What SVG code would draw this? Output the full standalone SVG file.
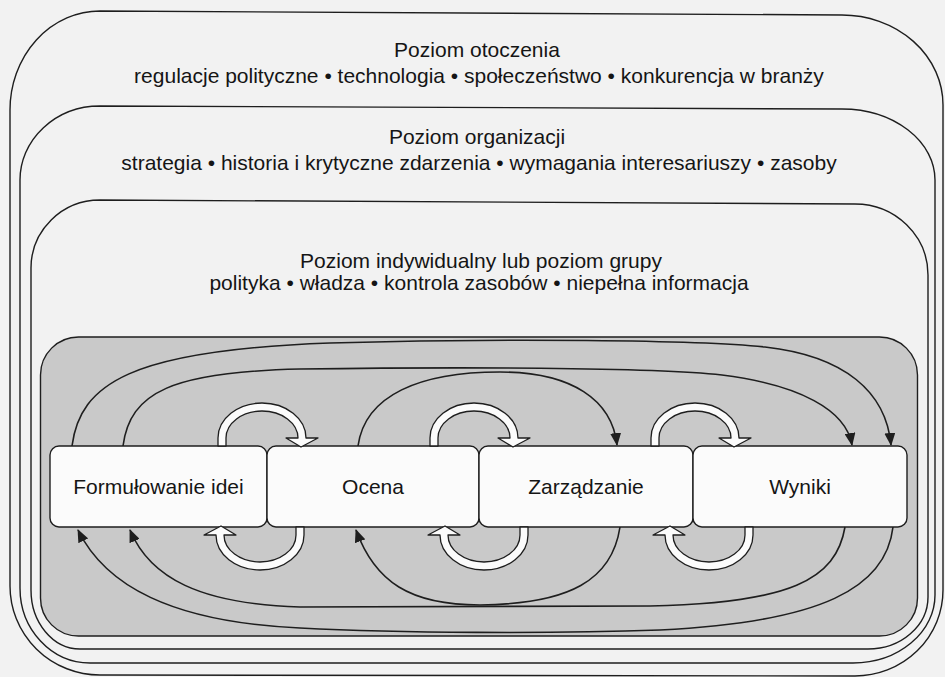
<svg xmlns="http://www.w3.org/2000/svg" width="945" height="677" viewBox="0 0 945 677">
  <style>
    .frame { fill: none; stroke: #1e1e1e; stroke-width: 1.4; }
    .lbl { font-family: "Liberation Sans", Arial, Helvetica, sans-serif; font-size: 21px; fill: #151515; text-anchor: middle; }
    .box { fill: #fbfbfb; stroke: #1e1e1e; stroke-width: 1.4; }
    .flow { fill: none; stroke: #1e1e1e; stroke-width: 1.6; marker-end: url(#ah); }
    .turn { fill: #fbfbfb; stroke: #1e1e1e; stroke-width: 1.3; stroke-linejoin: round; }
  </style>
  <defs>
    <marker id="ah" viewBox="0 0 13 11" refX="12" refY="5.5" markerWidth="13" markerHeight="11" markerUnits="userSpaceOnUse" orient="auto">
      <path d="M0,0 L13,5.5 L0,11 Z" fill="#1e1e1e"/>
    </marker>
    <!-- hollow U-turn block arrow, origin at the junction of two boxes -->
    <path id="turn" d="M -49,0 L -49,-8 A 44 35 0 0 1 39,-8 L 51,-8 L 34,1 L 19,-8 L 31,-8 A 36 27 0 0 0 -41,-8 L -41,0 Z"/>
  </defs>

  <rect width="945" height="677" fill="#f2f2f2"/>

  <g id="level-environment">
    <path class="frame" d="M 100,11 L 842,15 A 101 90 0 0 1 943,105 L 943,590 A 88 86 0 0 1 855,676 L 100,675 A 90 89 0 0 1 10,586 L 10,110 A 90 99 0 0 1 100,11 Z"/>
    <text class="lbl" x="477" y="57">Poziom otoczenia</text>
    <text class="lbl" x="479" y="83">regulacje polityczne • technologia • społeczeństwo • konkurencja w branży</text>
  </g>

  <g id="level-organization">
    <path class="frame" d="M 100,106 L 842,109 A 93 71 0 0 1 935,180 L 935,595 A 82 68 0 0 1 853,663 L 90,663 A 70 75 0 0 1 20,588 L 20,180 A 80 74 0 0 1 100,106 Z"/>
    <text class="lbl" x="477" y="144">Poziom organizacji</text>
    <text class="lbl" x="479" y="170">strategia • historia i krytyczne zdarzenia • wymagania interesariuszy • zasoby</text>
  </g>

  <g id="level-group">
    <path class="frame" d="M 100,200 L 855,204 A 73 71 0 0 1 928,275 L 928,597 A 60 52 0 0 1 868,649 L 80,649 A 49 59 0 0 1 31,590 L 31,268 A 69 68 0 0 1 100,200 Z"/>
    <text class="lbl" x="481" y="268">Poziom indywidualny lub poziom grupy</text>
    <text class="lbl" x="479" y="290">polityka • władza • kontrola zasobów • niepełna informacja</text>
  </g>

  <g id="process-area">
    <rect x="40.5" y="337" width="877" height="299" rx="38" ry="38" fill="#c9c9c9" stroke="#1e1e1e" stroke-width="1.4"/>
  </g>

  <g id="node-formulowanie">
    <rect class="box" x="50" y="446" width="217" height="81" rx="9"/>
    <text class="lbl" x="158.5" y="494">Formułowanie idei</text>
  </g>
  <g id="node-ocena">
    <rect class="box" x="267" y="446" width="212" height="81" rx="9"/>
    <text class="lbl" x="373" y="494">Ocena</text>
  </g>
  <g id="node-zarzadzanie">
    <rect class="box" x="479" y="446" width="214" height="81" rx="9"/>
    <text class="lbl" x="586" y="494">Zarządzanie</text>
  </g>
  <g id="node-wyniki">
    <rect class="box" x="693" y="446" width="214" height="81" rx="9"/>
    <text class="lbl" x="800" y="494">Wyniki</text>
  </g>

  <g id="connectors">
    <!-- long feed-forward arcs over the boxes -->
    <path class="flow" d="M 72,446 C 80,384 130,350 330,343 C 500,338 700,340 765,347 C 845,356 886,392 891,445"/>
    <path class="flow" d="M 123,446 C 130,392 172,372 300,369 C 450,367 650,367 722,375 C 800,385 846,410 852,445"/>
    <path class="flow" d="M 358,446 C 365,395 420,372 500,372 C 572,372 612,400 617,445"/>
    <!-- feedback arcs under the boxes -->
    <path class="flow" d="M 893,527 C 886,588 822,622 660,630 C 550,634 400,633 300,628 C 170,622 105,585 78,530"/>
    <path class="flow" d="M 845,527 C 836,580 790,603 650,606 L 300,607 C 200,604 150,578 130,530"/>
    <path class="flow" d="M 620,527 C 612,580 570,604 480,605 C 410,605 375,582 356,530"/>
    <!-- hollow turn arrows between neighbouring boxes -->
    <use href="#turn" class="turn" transform="translate(267,446)"/>
    <use href="#turn" class="turn" transform="translate(479,446)"/>
    <use href="#turn" class="turn" transform="translate(700,446)"/>
    <use href="#turn" class="turn" transform="translate(255,527) rotate(180)"/>
    <use href="#turn" class="turn" transform="translate(479,527) rotate(180)"/>
    <use href="#turn" class="turn" transform="translate(704,527) rotate(180)"/>
  </g>
</svg>
